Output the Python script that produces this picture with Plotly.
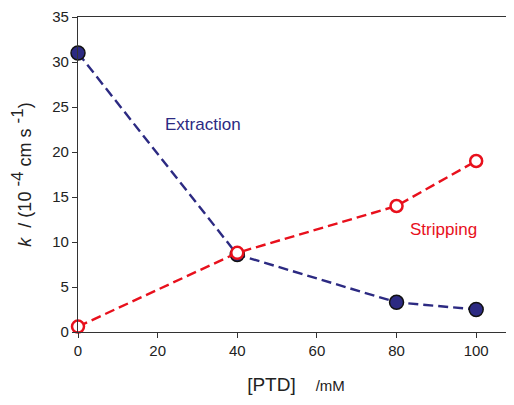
import plotly.graph_objects as go

ptd = [0, 40, 80, 100]
extraction = [31.0, 8.6, 3.3, 2.5]
stripping = [0.6, 8.8, 14.0, 19.0]
x_ticks = [0, 20, 40, 60, 80, 100]
y_ticks = [0, 5, 10, 15, 20, 25, 30, 35]

navy = "#2c2a82"
red = "#e8101c"

fig = go.Figure()
fig.add_trace(go.Scatter(
    x=ptd, y=extraction, mode="lines+markers", name="Extraction",
    line=dict(color=navy, width=2.4, dash="10px,5px"),
    marker=dict(size=14, color=navy, line=dict(color="#111111", width=1.5)),
    cliponaxis=False,
))
fig.add_trace(go.Scatter(
    x=ptd, y=stripping, mode="lines+markers", name="Stripping",
    line=dict(color=red, width=2.4, dash="10px,5px"),
    marker=dict(size=12, color="white", line=dict(color=red, width=2.5)),
    cliponaxis=False,
))

fig.add_annotation(x=31.4, y=23.1, text="Extraction", showarrow=False,
                   font=dict(color=navy, size=17, family="Liberation Sans"))
fig.add_annotation(x=91.7, y=11.4, text="Stripping", showarrow=False,
                   font=dict(color=red, size=17, family="Liberation Sans"))

fig.update_layout(
    width=506, height=397,
    margin=dict(l=70, r=0, t=9, b=73),
    plot_bgcolor="white", paper_bgcolor="white",
    showlegend=False,
    font=dict(family="Liberation Sans", size=15, color="#222222"),
    xaxis=dict(
        range=[0, 109.5], tickvals=x_ticks, showgrid=False, zeroline=False,
        showline=True, linecolor="#333333", linewidth=1.2, mirror=True,
        ticks="outside", ticklen=5, tickcolor="#333333",
        title=dict(text="<span style='font-size:19px'>[PTD]</span>    <span style='font-size:15px'>/mM</span>",
                   standoff=20),
    ),
    yaxis=dict(
        range=[0, 35], tickvals=y_ticks, showgrid=False, zeroline=False,
        showline=True, linecolor="#333333", linewidth=1.2,
        ticks="outside", ticklen=5, tickcolor="#333333",
        title=dict(text="<i>k</i>  / (10 <sup><span style='font-size:17px'>-4</span></sup> cm s <sup><span style='font-size:17px'>-1</span></sup>)",
                   font=dict(size=18), standoff=16),
    ),
)

fig.write_html("out.html")
